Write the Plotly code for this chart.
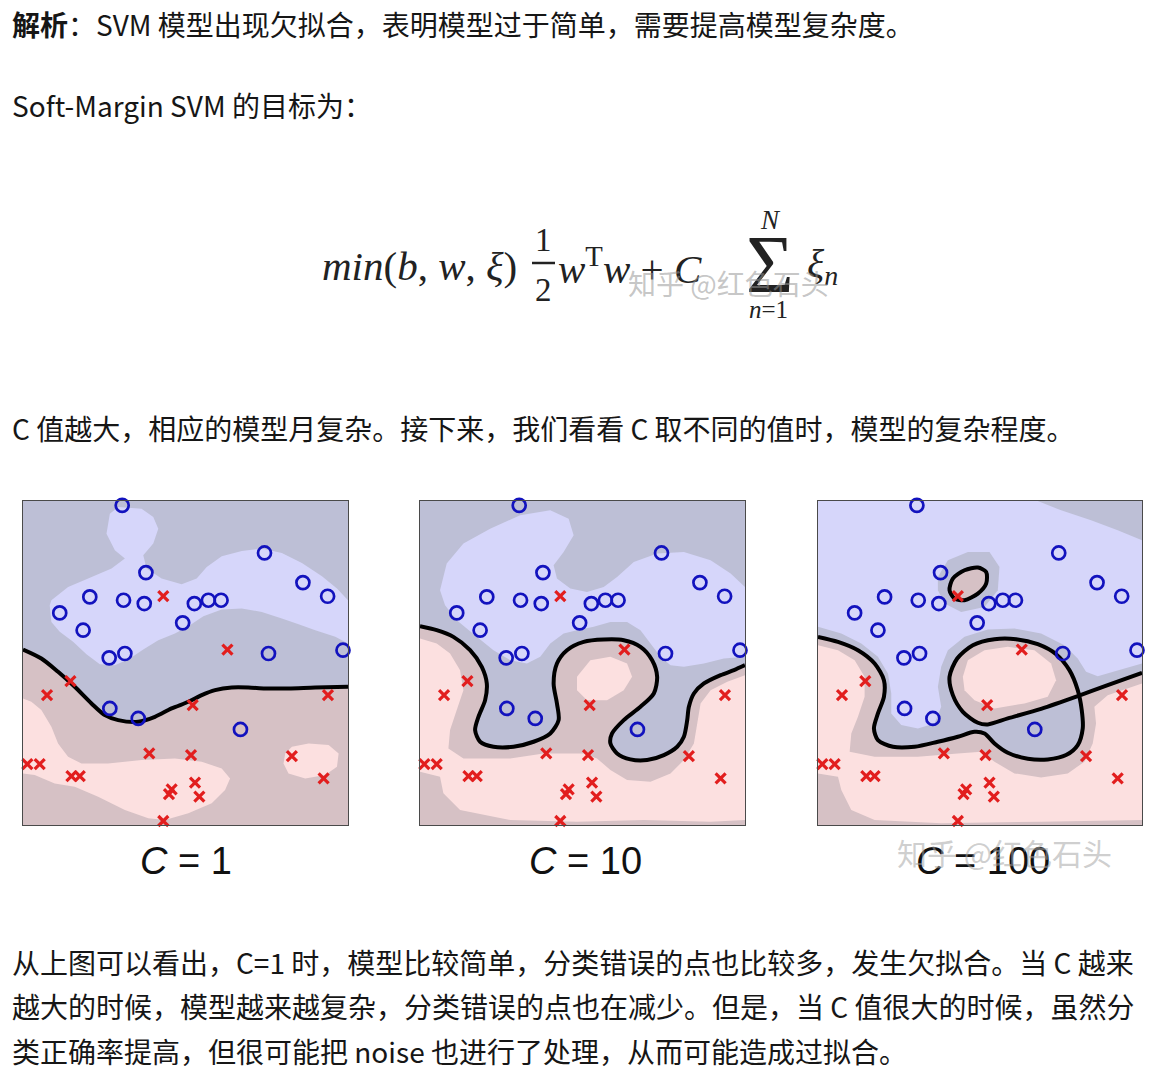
import plotly.graph_objects as go
from plotly.subplots import make_subplots

# ---------------- data (panel units: x 25..998, y 32..1005 top-down) -------------
blue_x = [322, 748, 393, 863, 937, 225, 326, 388, 538, 580, 618, 135, 503, 205, 283, 330, 760, 983, 285, 370, 676]
blue_y = [45, 188, 247, 277, 318, 320, 330, 340, 340, 330, 330, 368, 398, 420, 503, 490, 490, 480, 655, 685, 718]

red_x = [445, 637, 167, 97, 533, 938, 403, 528, 830, 38, 75, 170, 195, 540, 470, 462, 553, 925, 445]
red_y = [318, 478, 573, 615, 645, 615, 790, 795, 798, 822, 822, 858, 858, 878, 898, 912, 920, 865, 993]

panel_titles = ["C = 1", "C = 10", "C = 100"]

# panel 1 (C = 1)
p1_bound_x = [25, 80, 130, 180, 230, 270, 310, 370, 420, 470, 520, 560, 600, 650, 700, 750, 820, 900, 998]
p1_bound_y = [478, 505, 545, 590, 640, 675, 690, 695, 680, 655, 635, 615, 600, 592, 592, 595, 595, 592, 590]
p1_lblue_x = [105, 110, 160, 220, 290, 330, 300, 275, 285, 310, 380, 415, 430, 415, 385, 395, 440, 500, 545, 575,
              620, 680, 740, 800, 860, 920, 965, 998, 998, 960, 900, 850, 800, 740, 680, 620, 565, 520, 480, 430,
              385, 345, 300, 255, 215, 175, 135, 110]
p1_lblue_y = [345, 330, 290, 265, 235, 205, 180, 130, 70, 50, 55, 80, 115, 160, 195, 235, 265, 282, 265, 230,
              198, 182, 175, 188, 218, 258, 295, 330, 460, 440, 420, 402, 385, 365, 355, 358, 378, 408, 430, 450,
              478, 505, 525, 522, 492, 455, 425, 395]
p1_lpink_x = [25, 50, 80, 110, 130, 160, 200, 280, 380, 480, 560, 620, 645, 630, 590, 520, 450, 400, 330, 250,
              180, 120, 60, 25]
p1_lpink_y = [625, 635, 660, 710, 760, 800, 820, 820, 810, 805, 815, 835, 865, 900, 940, 970, 990, 985, 960, 920,
              890, 880, 855, 850]
p1_lpink2_x = [805, 810, 830, 880, 940, 970, 965, 930, 870, 820]
p1_lpink2_y = [820, 790, 770, 760, 765, 790, 830, 855, 865, 850]

# panel 2 (C = 10)
p2_bound_x = [25, 75, 125, 175, 210, 225, 220, 200, 190, 205, 245, 305, 365, 415, 440, 435, 425, 435, 465, 515,
              575, 635, 685, 720, 735, 725, 685, 635, 600, 595, 615, 655, 705, 755, 795, 815, 825, 830, 845, 875,
              925, 965, 998]
p2_bound_y = [408, 420, 440, 480, 530, 580, 630, 680, 720, 755, 770, 770, 755, 730, 690, 640, 580, 520, 480, 455,
              448, 450, 470, 510, 560, 610, 650, 690, 730, 760, 790, 808, 810, 795, 770, 740, 690, 650, 610, 580,
              555, 540, 525]
p2_lblue_x = [85, 105, 155, 235, 325, 415, 470, 485, 455, 425, 435, 475, 525, 575, 615, 665, 735, 815, 895, 955,
              998, 998, 935, 875, 815, 775, 745, 715, 685, 645, 595, 545, 495, 455, 415, 385, 345, 295, 245, 195,
              135, 100]
p2_lblue_y = [300, 220, 160, 115, 75, 60, 85, 135, 185, 225, 265, 295, 305, 290, 260, 215, 190, 185, 210, 250,
              290, 500, 505, 520, 530, 525, 500, 460, 420, 395, 395, 410, 420, 430, 460, 500, 520, 510, 480, 440,
              390, 345]
p2_lpink_x = [25, 75, 115, 145, 155, 135, 115, 110, 155, 295, 395, 515, 555, 595, 645, 715, 775, 815, 845, 855,
              865, 895, 945, 998, 998, 895, 695, 495, 295, 145, 95, 85, 25]
p2_lpink_y = [445, 460, 490, 540, 600, 660, 720, 775, 805, 805, 790, 790, 805, 840, 870, 875, 850, 810, 760, 700,
              640, 600, 575, 555, 990, 995, 990, 995, 990, 960, 910, 860, 845]
p2_lpink2_x = [495, 535, 595, 645, 660, 635, 585, 525, 495]
p2_lpink2_y = [560, 510, 500, 520, 560, 600, 630, 630, 600]

# panel 3 (C = 100)
p3_bound_x = [25, 85, 145, 195, 223, 223, 205, 193, 205, 250, 315, 385, 445, 495, 525, 555, 595, 655, 715, 770,
              805, 820, 817, 805, 780, 740, 685, 620, 555, 490, 443, 420, 430, 460, 505, 535, 595, 695, 805, 895, 998]
p3_bound_y = [440, 455, 480, 520, 570, 620, 670, 715, 750, 770, 770, 755, 740, 725, 730, 760, 788, 806, 808, 795,
              765, 715, 660, 600, 540, 492, 462, 447, 447, 465, 505, 560, 615, 665, 698, 703, 685, 656, 618, 585, 548]
p3_ellipse_x = [420, 430, 465, 505, 530, 530, 505, 465, 435, 420]
p3_ellipse_y = [300, 265, 240, 232, 245, 280, 310, 330, 325, 300]
p3_lblue_x = [25, 685, 755, 845, 925, 998, 998, 935, 865, 830, 805, 765, 695, 615, 535, 465, 415, 395, 385, 395,
              375, 325, 275, 245, 245, 235, 205, 155, 95, 25]
p3_lblue_y = [32, 32, 60, 90, 120, 150, 520, 538, 558, 545, 505, 465, 430, 415, 418, 440, 480, 530, 590, 650,
              700, 715, 705, 670, 610, 550, 500, 460, 430, 410]
p3_grayblob_x = [385, 415, 475, 540, 570, 565, 525, 455, 405, 385]
p3_grayblob_y = [260, 210, 185, 185, 230, 300, 350, 365, 340, 300]
p3_lpink_x = [25, 85, 135, 165, 165, 145, 125, 120, 195, 325, 445, 515, 555, 615, 695, 775, 825, 850, 860, 855,
              895, 945, 998, 998, 695, 395, 195, 125, 95, 85, 25]
p3_lpink_y = [465, 480, 510, 560, 620, 680, 730, 785, 800, 800, 790, 785, 815, 850, 862, 850, 815, 760, 700, 650,
              615, 598, 580, 990, 995, 1000, 990, 960, 900, 860, 850]
p3_lpink2_x = [460, 475, 525, 595, 675, 725, 740, 715, 645, 555, 495, 465]
p3_lpink2_y = [560, 510, 480, 470, 480, 520, 570, 620, 640, 655, 630, 600]

# ---------------- styling -------------
LIGHT_BLUE = "rgb(214,214,250)"
BLUE_GRAY = "rgb(189,191,214)"
PINK_GRAY = "rgb(214,193,197)"
LIGHT_PINK = "rgb(252,224,224)"
X_RANGE = [25, 998]
Y_RANGE = [1005, 32]
OFF = 8                      # page body margin
W, H = 1164 - OFF, 1083 - OFF

fig = make_subplots(rows=1, cols=3, horizontal_spacing=0.0)


def poly(xs, ys, color, col):
    fig.add_trace(go.Scatter(x=list(xs) + [xs[0]], y=list(ys) + [ys[0]], mode="none", fill="toself",
                             fillcolor=color, hoverinfo="skip", showlegend=False), row=1, col=col)


def line(xs, ys, col, width=4):
    fig.add_trace(go.Scatter(x=xs, y=ys, mode="lines", line=dict(color="black", width=width, shape="spline",
                                                                  smoothing=0.8),
                             hoverinfo="skip", showlegend=False), row=1, col=col)


def points(col):
    fig.add_trace(go.Scatter(x=red_x, y=red_y, mode="markers", cliponaxis=False,
                             marker=dict(symbol="x-thin-open", size=10, color="rgb(226,30,30)",
                                         line=dict(width=3.2, color="rgb(226,30,30)")),
                             showlegend=False, hoverinfo="skip"), row=1, col=col)
    fig.add_trace(go.Scatter(x=blue_x, y=blue_y, mode="markers", cliponaxis=False,
                             marker=dict(symbol="circle-open", size=13, color="rgb(18,18,190)",
                                         line=dict(width=2.7, color="rgb(18,18,190)")),
                             showlegend=False, hoverinfo="skip"), row=1, col=col)


# panel 1
poly(p1_bound_x + [X_RANGE[1], X_RANGE[0]], p1_bound_y + [Y_RANGE[1], Y_RANGE[1]], BLUE_GRAY, 1)
poly(p1_lblue_x, p1_lblue_y, LIGHT_BLUE, 1)
poly(p1_lpink_x, p1_lpink_y, LIGHT_PINK, 1)
poly(p1_lpink2_x, p1_lpink2_y, LIGHT_PINK, 1)
line(p1_bound_x, p1_bound_y, 1)
points(1)

# panel 2
poly(p2_bound_x + [X_RANGE[1], X_RANGE[0]], p2_bound_y + [Y_RANGE[1], Y_RANGE[1]], BLUE_GRAY, 2)
poly(p2_lblue_x, p2_lblue_y, LIGHT_BLUE, 2)
poly(p2_lpink_x, p2_lpink_y, LIGHT_PINK, 2)
poly(p2_lpink2_x, p2_lpink2_y, LIGHT_PINK, 2)
line(p2_bound_x, p2_bound_y, 2)
points(2)

# panel 3
outer_x = p3_bound_x[:23] + p3_bound_x[38:] + [X_RANGE[1], X_RANGE[0]]
outer_y = p3_bound_y[:23] + p3_bound_y[38:] + [Y_RANGE[1], Y_RANGE[1]]
poly(outer_x, outer_y, BLUE_GRAY, 3)
poly(p3_lblue_x, p3_lblue_y, LIGHT_BLUE, 3)
poly(p3_grayblob_x, p3_grayblob_y, BLUE_GRAY, 3)
poly(p3_bound_x[23:39], p3_bound_y[23:39], PINK_GRAY, 3)
poly(p3_lpink_x, p3_lpink_y, LIGHT_PINK, 3)
poly(p3_lpink2_x, p3_lpink2_y, LIGHT_PINK, 3)
poly(p3_ellipse_x, p3_ellipse_y, PINK_GRAY, 3)
line(p3_bound_x, p3_bound_y, 3)
line(p3_ellipse_x, p3_ellipse_y, 3)
points(3)


def px(x):
    return (x - OFF) / W


def py(y):
    return 1 - (y - OFF) / H


# axes / domains (page pixels)
domains = [[23, 348], [420, 745], [818, 1142]]
for i, (a, b) in enumerate(domains, start=1):
    xa = "xaxis" if i == 1 else f"xaxis{i}"
    ya = "yaxis" if i == 1 else f"yaxis{i}"
    fig.layout[xa].update(domain=[px(a), px(b)], range=X_RANGE, showgrid=False, zeroline=False,
                          showticklabels=False, ticks="", showline=True, mirror=True,
                          linecolor="#4a4a4a", linewidth=1)
    fig.layout[ya].update(domain=[py(825), py(501)], range=Y_RANGE, showgrid=False, zeroline=False,
                          showticklabels=False, ticks="", showline=True, mirror=True,
                          linecolor="#4a4a4a", linewidth=1)

CJK = "Noto Sans CJK SC"
TXT = "#161616"
ann = []


def text(s, x, y, size=28, family=CJK, color=TXT, anchor="left"):
    ann.append(dict(text=s, x=px(x), y=py(y), xref="paper", yref="paper", xanchor=anchor, yanchor="middle",
                    showarrow=False, font=dict(family=family, size=size, color=color)))


text("<b>解析</b>：SVM 模型出现欠拟合，表明模型过于简单，需要提高模型复杂度。", 10, 24)
text("Soft-Margin SVM 的目标为：", 10, 105)
text("C 值越大，相应的模型月复杂。接下来，我们看看 C 取不同的值时，模型的复杂程度。", 10, 428)
text("从上图可以看出，C=1 时，模型比较简单，分类错误的点也比较多，发生欠拟合。当 C 越来", 10, 962)
text("越大的时候，模型越来越复杂，分类错误的点也在减少。但是，当 C 值很大的时候，虽然分", 10, 1006)
text("类正确率提高，但很可能把 noise 也进行了处理，从而可能造成过拟合。", 10, 1051)

# formula
SERIF = "Liberation Serif"
FC = "#222222"
text("<i>min</i>(<i>b</i>, <i>w</i>, <i>ξ</i>)", 320, 266, size=41, family=SERIF, color=FC)
text("1", 543, 240, size=33, family=SERIF, color=FC, anchor="center")
text("2", 543, 290, size=33, family=SERIF, color=FC, anchor="center")
text("<i>w</i><sup>T</sup><i>w</i> + <i>C</i>", 556, 266, size=41, family=SERIF, color=FC)
text("Σ", 770, 264, size=82, family=SERIF, color=FC, anchor="center")
text("<i>N</i>", 770, 220, size=27, family=SERIF, color=FC, anchor="center")
text("<i>n</i>=1", 768, 309, size=25, family=SERIF, color=FC, anchor="center")
text("<i>ξ</i><sub><i>n</i></sub>", 805, 266, size=40, family=SERIF, color=FC)
text("知乎 @红色石头", 728, 283, size=28, family=CJK, color="rgba(150,150,150,0.55)", anchor="center")

# panel titles
for t, cx in zip(panel_titles, [186, 585, 983]):
    lbl = t.replace("C", "<i>C</i>", 1)
    text(lbl, cx, 861, size=38, family="Liberation Sans", color="#111111", anchor="center")
text("知乎 @红色石头", 1005, 852, size=30, family=CJK, color="rgba(165,165,165,0.55)", anchor="center")

fig.update_layout(width=W, height=H, margin=dict(l=0, r=0, t=0, b=0), paper_bgcolor="white",
                  plot_bgcolor=PINK_GRAY, annotations=ann, showlegend=False,
                  shapes=[dict(type="line", xref="paper", yref="paper", x0=px(532), x1=px(555),
                               y0=py(263), y1=py(263), line=dict(color=FC, width=2.5))])

fig.write_html("out.html")
